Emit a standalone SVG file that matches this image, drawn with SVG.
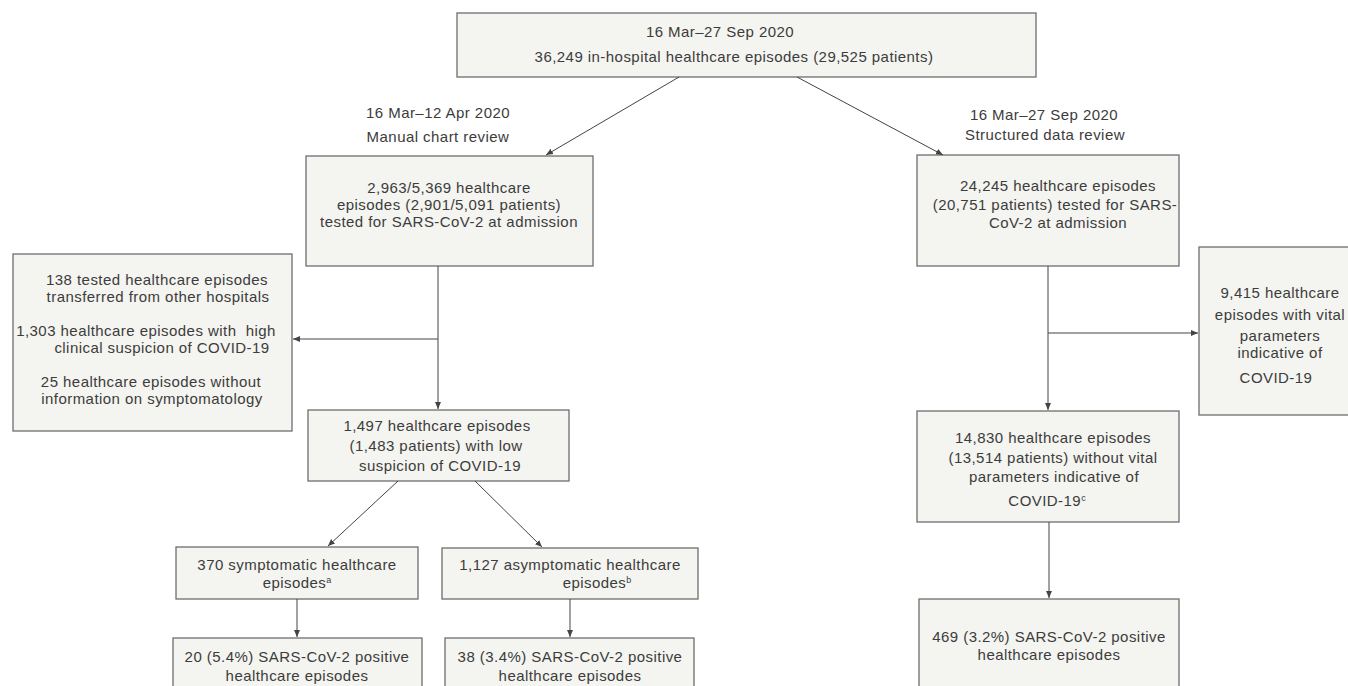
<svg xmlns="http://www.w3.org/2000/svg" width="1348" height="686" viewBox="0 0 1348 686">
<defs>
<marker id="ah" markerWidth="8" markerHeight="8" refX="7" refY="4" orient="auto" markerUnits="userSpaceOnUse">
<path d="M0,1 L7,4 L0,7 Z" fill="#444"/>
</marker>
<style>
.box{fill:#f4f4f0;stroke:#6e6e6e;stroke-width:1.3}
.t{font-family:"Liberation Sans",Arial,sans-serif;font-size:15px;letter-spacing:0.45px;fill:#3c3c3c;text-anchor:middle}
.c{stroke:#444;stroke-width:1;fill:none;marker-end:url(#ah)}
.sup{font-size:9px;letter-spacing:0}
</style>
</defs>
<rect width="1348" height="686" fill="#ffffff"/>

<g id="top">
<rect class="box" x="457" y="13" width="579" height="64"/>
<text class="t" x="720" y="37">16 Mar–27 Sep 2020</text>
<text class="t" x="734" y="62">36,249 in-hospital healthcare episodes (29,525 patients)</text>
</g>

<g id="label-manual">
<text class="t" x="438" y="118">16 Mar–12 Apr 2020</text>
<text class="t" x="438" y="142">Manual chart review</text>
</g>

<g id="label-structured">
<text class="t" x="1044" y="120">16 Mar–27 Sep 2020</text>
<text class="t" x="1045" y="140">Structured data review</text>
</g>

<g id="manual-tested">
<rect class="box" x="306" y="156" width="287" height="110"/>
<text class="t" x="449" y="193">2,963/5,369 healthcare</text>
<text class="t" x="449" y="210">episodes (2,901/5,091 patients)</text>
<text class="t" x="449" y="227">tested for SARS-CoV-2 at admission</text>
</g>

<g id="structured-tested">
<rect class="box" x="917" y="155" width="262" height="111"/>
<text class="t" x="1058" y="191">24,245 healthcare episodes</text>
<text class="t" x="1055" y="210">(20,751 patients) tested for SARS-</text>
<text class="t" x="1058" y="228">CoV-2 at admission</text>
</g>

<g id="excluded-manual">
<rect class="box" x="13" y="254" width="279" height="177"/>
<text class="t" x="157" y="285">138 tested healthcare episodes</text>
<text class="t" x="158" y="302">transferred from other hospitals</text>
<text class="t" x="146" y="336" xml:space="preserve">1,303 healthcare episodes with  high</text>
<text class="t" x="162" y="353">clinical suspicion of COVID-19</text>
<text class="t" x="151" y="387">25 healthcare episodes without</text>
<text class="t" x="152" y="404">information on symptomatology</text>
</g>

<g id="excluded-structured">
<rect class="box" x="1199" y="247" width="160" height="168"/>
<text class="t" x="1280" y="298">9,415 healthcare</text>
<text class="t" x="1280" y="320">episodes with vital</text>
<text class="t" x="1280" y="341">parameters</text>
<text class="t" x="1280" y="358">indicative of</text>
<text class="t" x="1276" y="383">COVID-19</text>
</g>

<g id="low-suspicion">
<rect class="box" x="308" y="410" width="261" height="71"/>
<text class="t" x="437" y="431">1,497 healthcare episodes</text>
<text class="t" x="436" y="451">(1,483 patients) with low</text>
<text class="t" x="440" y="471">suspicion of COVID-19</text>
</g>

<g id="no-vital">
<rect class="box" x="917" y="411" width="262" height="111"/>
<text class="t" x="1053" y="443">14,830 healthcare episodes</text>
<text class="t" x="1053" y="463">(13,514 patients) without vital</text>
<text class="t" x="1054" y="482">parameters indicative of</text>
<text class="t" x="1047" y="506">COVID-19<tspan class="sup" dy="-5">c</tspan></text>
</g>

<g id="symptomatic">
<rect class="box" x="176" y="547" width="242" height="52"/>
<text class="t" x="297" y="570">370 symptomatic healthcare</text>
<text class="t" x="297" y="588">episodes<tspan class="sup" dy="-5">a</tspan></text>
</g>

<g id="asymptomatic">
<rect class="box" x="442" y="548" width="256" height="51"/>
<text class="t" x="570" y="570">1,127 asymptomatic healthcare</text>
<text class="t" x="597" y="588">episodes<tspan class="sup" dy="-5">b</tspan></text>
</g>

<g id="pos-symptomatic">
<rect class="box" x="173" y="638" width="249" height="60"/>
<text class="t" x="297" y="662">20 (5.4%) SARS-CoV-2 positive</text>
<text class="t" x="297" y="681">healthcare episodes</text>
</g>

<g id="pos-asymptomatic">
<rect class="box" x="445" y="638" width="249" height="60"/>
<text class="t" x="570" y="662">38 (3.4%) SARS-CoV-2 positive</text>
<text class="t" x="570" y="681">healthcare episodes</text>
</g>

<g id="pos-structured">
<rect class="box" x="919" y="599" width="260" height="100"/>
<text class="t" x="1049" y="642">469 (3.2%) SARS-CoV-2 positive</text>
<text class="t" x="1049" y="660">healthcare episodes</text>
</g>

<g id="connectors">
<line class="c" x1="679" y1="77" x2="546" y2="155"/>
<line class="c" x1="797" y1="77" x2="943" y2="155"/>
<line class="c" x1="438" y1="266" x2="438" y2="409"/>
<line class="c" x1="438" y1="339" x2="293" y2="339"/>
<line class="c" x1="1048" y1="266" x2="1048" y2="410"/>
<line class="c" x1="1048" y1="333" x2="1198" y2="333"/>
<line class="c" x1="398" y1="481" x2="328" y2="546"/>
<line class="c" x1="475" y1="481" x2="542" y2="547"/>
<line class="c" x1="297" y1="599" x2="297" y2="637"/>
<line class="c" x1="570" y1="599" x2="570" y2="637"/>
<line class="c" x1="1049" y1="522" x2="1049" y2="598"/>
</g>
</svg>
